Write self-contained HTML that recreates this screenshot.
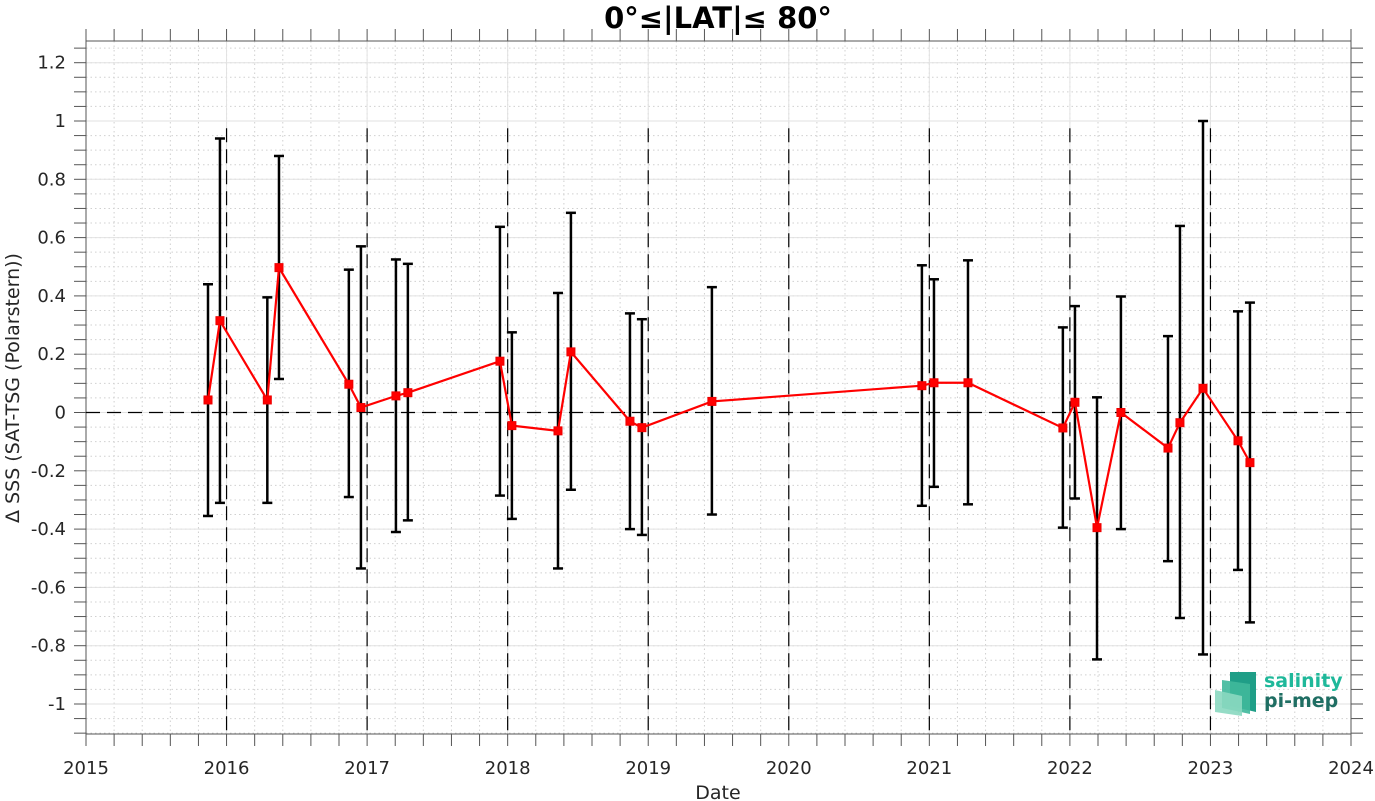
<!DOCTYPE html>
<html><head><meta charset="utf-8"><style>
body{margin:0;background:#fff;}
svg{display:block;font-family:"DejaVu Sans","Liberation Sans",sans-serif;}
</style></head><body>
<svg id="chart" width="1375" height="801" viewBox="0 0 1375 801">
<text x="718" y="28" font-size="29" font-weight="bold" text-anchor="middle" fill="#000">0°≤|LAT|≤ 80°</text>
<text x="718" y="799" font-size="19" text-anchor="middle" fill="#262626">Date</text>
<text transform="translate(19,388) rotate(-90)" font-size="19" text-anchor="middle" fill="#262626">Δ SSS (SAT-TSG (Polarstern))</text>
<g>
<polygon points="1230,672 1256,672 1256,712 1230,706" fill="#1f9e87"/>
<polygon points="1222,680 1250,684 1250,714 1222,708" fill="#3fb89b" opacity="0.9"/>
<polygon points="1215,690 1242,696 1242,716 1215,712" fill="#8ad8c0" opacity="0.9"/>
<text x="1264" y="687" font-size="19" font-weight="bold" fill="#1fb89a">salinity</text>
<text x="1264" y="707" font-size="19" font-weight="bold" fill="#1f6e63">pi-mep</text>
</g>
</svg>
<script>
const dates=[2015.868,2015.953,2016.29,2016.373,2016.87,2016.956,2017.205,2017.29,2017.945,2018.03,2018.358,2018.45,2018.87,2018.955,2019.453,2020.947,2021.033,2021.275,2021.95,2022.036,2022.193,2022.363,2022.698,2022.783,2022.947,2023.196,2023.281];
const values=[0.043,0.315,0.043,0.497,0.097,0.017,0.057,0.068,0.176,-0.045,-0.063,0.208,-0.03,-0.052,0.038,0.092,0.102,0.102,-0.053,0.035,-0.395,0.0,-0.122,-0.035,0.083,-0.097,-0.172];
const errHigh=[0.44,0.94,0.395,0.88,0.49,0.57,0.525,0.51,0.637,0.275,0.41,0.685,0.34,0.32,0.43,0.505,0.457,0.522,0.292,0.365,0.052,0.398,0.262,0.64,1.0,0.347,0.377];
const errLow=[-0.355,-0.31,-0.31,0.115,-0.29,-0.535,-0.41,-0.37,-0.285,-0.365,-0.535,-0.265,-0.40,-0.42,-0.35,-0.32,-0.255,-0.315,-0.395,-0.295,-0.847,-0.4,-0.51,-0.705,-0.83,-0.54,-0.72];
const xTicks=[2015,2016,2017,2018,2019,2020,2021,2022,2023,2024];
const yTicks=[-1,-0.8,-0.6,-0.4,-0.2,0,0.2,0.4,0.6,0.8,1,1.2];
const yearLines=[2016,2017,2018,2019,2020,2021,2022,2023];

const L=86,R=1351,T=41,B=734;
const X=v=>L+(v-2015)*(R-L)/9;
const Y=v=>412.5-v*291.5;
const ns='http://www.w3.org/2000/svg';
const svg=document.getElementById('chart');
function mk(tag,attrs,parent){const e=document.createElementNS(ns,tag);for(const k in attrs)e.setAttribute(k,attrs[k]);(parent||svg).appendChild(e);return e;}
const first=svg.firstChild;
const g=document.createElementNS(ns,'g');svg.insertBefore(g,first);


for(let v=2015;v<=2024.001;v+=0.2){const x=X(v);
 mk('line',{x1:x,x2:x,y1:T,y2:B,stroke:'#d0d0d0','stroke-dasharray':'1.5 3','stroke-width':1},g);
 mk('line',{x1:x,x2:x,y1:T,y2:T-12,stroke:'#555'},g);mk('line',{x1:x,x2:x,y1:B,y2:B+12,stroke:'#555'},g);}
for(let i=-22;i<=25;i++){const y=Y(i*0.05);if(y<T||y>B)continue;
 mk('line',{x1:L,x2:R,y1:y,y2:y,stroke:'#d0d0d0','stroke-dasharray':'1.5 3','stroke-width':1},g);
 mk('line',{x1:L,x2:L-12,y1:y,y2:y,stroke:'#555'},g);mk('line',{x1:R,x2:R+12,y1:y,y2:y,stroke:'#555'},g);}
xTicks.forEach(v=>{const x=X(v);
 mk('line',{x1:x,x2:x,y1:T,y2:B,stroke:'#e2e2e2'},g);
 const t=mk('text',{x:x,y:774,'font-size':18,'text-anchor':'middle',fill:'#262626'},g);t.textContent=v;
 
 });
yTicks.forEach(v=>{const y=Y(v);
 mk('line',{x1:L,x2:R,y1:y,y2:y,stroke:'#e2e2e2'},g);
 const t=mk('text',{x:L-20,y:y+6,'font-size':18,'text-anchor':'end',fill:'#262626'},g);t.textContent=String(Math.round(v*10)/10);
 
 });
mk('rect',{x:L,y:T,width:R-L,height:B-T,fill:'none',stroke:'#555'},g);
yearLines.forEach(v=>{const l=mk('line',{x1:X(v),x2:X(v),y1:Y(0.975),y2:B,stroke:'#000','stroke-width':1.2,'stroke-dasharray':'14 7'},g);
 
 });
const z=mk('line',{x1:L,x2:R,y1:Y(0),y2:Y(0),stroke:'#000','stroke-width':1.2,'stroke-dasharray':'14 7'},g);


dates.forEach((d,i)=>{const x=X(d);const eg=mk('g',{stroke:'#000','stroke-width':2.5},g);
 
 
 mk('line',{x1:x,x2:x,y1:Y(errHigh[i]),y2:Y(errLow[i])},eg);
 mk('line',{x1:x-5,x2:x+5,y1:Y(errHigh[i]),y2:Y(errHigh[i])},eg);
 mk('line',{x1:x-5,x2:x+5,y1:Y(errLow[i]),y2:Y(errLow[i])},eg);});
const pl=mk('polyline',{points:dates.map((d,i)=>X(d)+','+Y(values[i])).join(' '),fill:'none',stroke:'#f00','stroke-width':2.2},g);


dates.forEach((d,i)=>{const r=mk('rect',{x:X(d)-4,y:Y(values[i])-4,width:8,height:8,fill:'#f00',stroke:'#e00'},g);
 
 });
</script>
</body></html>
